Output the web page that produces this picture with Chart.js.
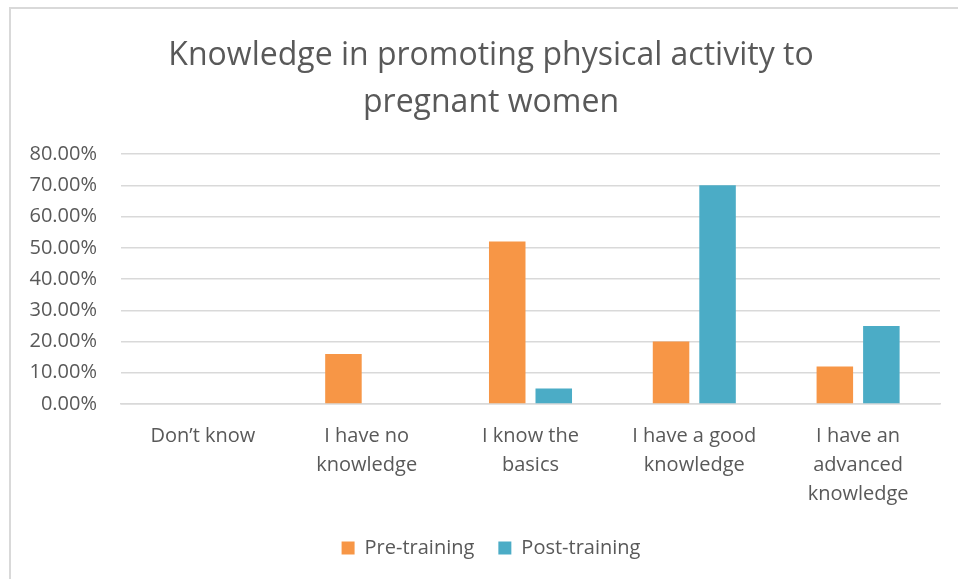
<!DOCTYPE html>
<html>
<head>
<meta charset="utf-8">
<script src="https://cdn.jsdelivr.net/npm/chart.js@4/dist/chart.umd.min.js"></script>
<style>
  html, body { margin: 0; padding: 0; background: #fff; overflow: hidden; }
  #frame {
    position: absolute; left: 9px; top: 7px;
    width: 960px; height: 590px;
    border: 2px solid #d9d9d9; background: #fff;
  }
  #chart { display: block; }
</style>
</head>
<body>
<div id="frame"><canvas id="chart" width="960" height="575"></canvas></div>
<script>
// values
const categories = [
  ["Don\u2019t know"],
  ["I have no", "knowledge"],
  ["I know the", "basics"],
  ["I have a good", "knowledge"],
  ["I have an", "advanced", "knowledge"]
]
const preTraining = [0, 16, 52, 20, 12]
const postTraining = [0, 0, 5, 70, 25]
const yTicks = [0, 10, 20, 30, 40, 50, 60, 70, 80]

const grey = '#595959'
const fontFamily = "'Open Sans', 'Noto Sans', sans-serif"

let ctx = document.getElementById('chart').getContext('2d')
let chart = new Chart(ctx, {
  type: 'bar',
  data: {
    labels: categories,
    datasets: [{
      label: 'Pre-training',
      backgroundColor: '#F79646',
      data: preTraining,
      categoryPercentage: 0.568,
      barPercentage: 0.785
    },
    {
      label: 'Post-training',
      backgroundColor: '#4BACC6',
      data: postTraining,
      categoryPercentage: 0.568,
      barPercentage: 0.785
    }]
  },
  options: {
    responsive: false,
    animation: false,
    devicePixelRatio: 1,
    layout: { padding: { left: 0, right: 0, top: 23, bottom: 16 } },
    plugins: {
      title: {
        display: true,
        text: ['Knowledge in promoting physical activity to', 'pregnant women'],
        color: grey,
        font: { family: fontFamily, size: 32, weight: 'normal', lineHeight: 1.47 },
        padding: { top: 0, bottom: 28 }
      },
      legend: {
        position: 'bottom',
        labels: {
          color: grey,
          boxWidth: 13,
          boxHeight: 13,
          padding: 24,
          font: { family: fontFamily, size: 20 }
        }
      },
      tooltip: { enabled: false }
    },
    scales: {
      x: {
        grid: { display: false },
        border: { color: '#d9d9d9', width: 1.5 },
        afterFit: axis => { axis.height = 110 },
        ticks: {
          color: grey,
          font: { family: fontFamily, size: 20, lineHeight: 1.45 },
          maxRotation: 0,
          autoSkip: false,
          padding: 10
        }
      },
      y: {
        min: 0,
        max: 80,
        afterBuildTicks: axis => { axis.ticks = yTicks.map(v => ({ value: v })) },
        afterFit: axis => { axis.width = 110 },
        grid: { color: '#d9d9d9', lineWidth: 1.5, drawTicks: false },
        border: { display: false },
        ticks: {
          color: grey,
          font: { family: fontFamily, size: 20 },
          padding: 24,
          callback: v => v.toFixed(2) + '%'
        }
      },
      // empty right-hand axis: keeps a margin on the right without moving the title
      right: {
        position: 'right',
        afterFit: axis => { axis.width = 31 },
        grid: { display: false },
        border: { display: false },
        ticks: { display: false }
      }
    }
  }
})
</script>
</body>
</html>
